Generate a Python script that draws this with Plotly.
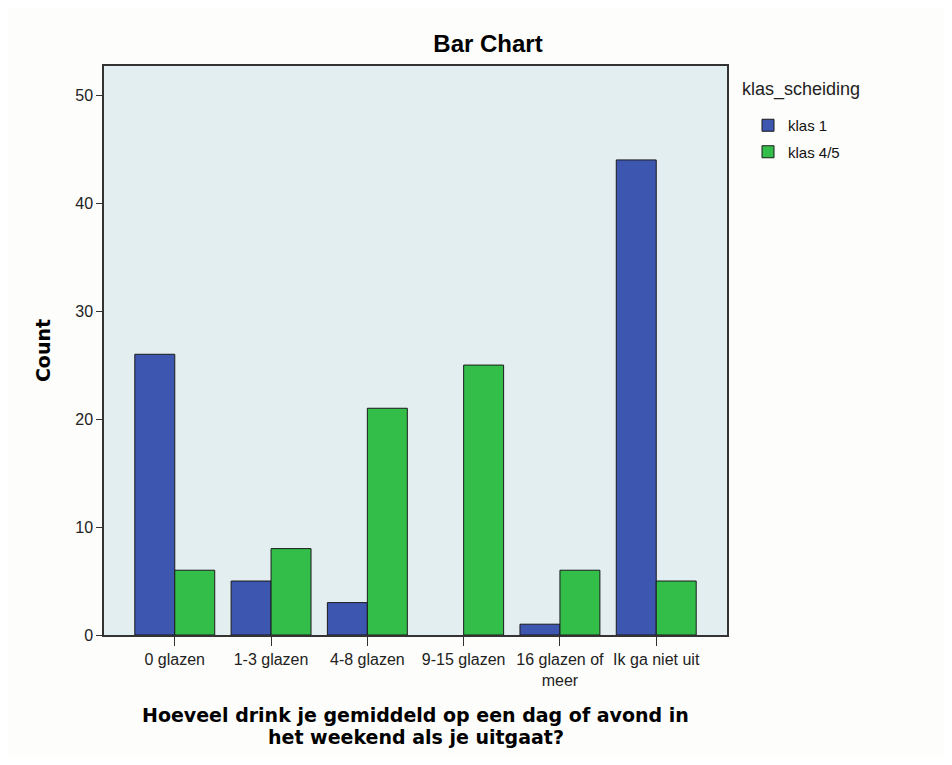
import plotly.graph_objects as go

categories = ["0 glazen", "1-3 glazen", "4-8 glazen", "9-15 glazen", "16 glazen of<br>meer", "Ik ga niet uit"]
klas1 = [26, 5, 3, 0, 1, 44]
klas45 = [6, 8, 21, 25, 6, 5]
series_names = ["klas 1", "klas 4/5"]
colors = ["#3D56B0", "#33BE4A"]
y_ticks = [0, 10, 20, 30, 40, 50]
x_title_lines = ["Hoeveel drink je gemiddeld op een dag of avond in", "het weekend als je uitgaat?"]

W, H = 936, 749
L, T, PW, PH = 96, 58, 623, 569

def px(xabs):
    return (xabs - 8 - L) / PW

def py(yabs):
    return 1 - (yabs - 8 - T) / PH

fig = go.Figure()
for name, vals, col in zip(series_names, [klas1, klas45], colors):
    fig.add_trace(go.Bar(
        x=list(range(len(categories))), y=vals, name=name,
        marker=dict(color=col, line=dict(color="#1a1a1a", width=[1 if v > 0 else 0 for v in vals])),
        legendgroup=name,
    ))

annotations = [dict(text="klas_scheiding", xref="paper", yref="paper",
                    x=px(740), y=py(89), xanchor="left", yanchor="middle",
                    showarrow=False, font=dict(size=18, color="#222"))]
for i, (line, yy) in enumerate(zip(x_title_lines, [715, 737])):
    annotations.append(dict(text="<b>" + line + "</b>", xref="paper", yref="paper",
                            x=0.5, y=py(yy), xanchor="center", yanchor="middle",
                            showarrow=False,
                            font=dict(family="DejaVu Sans", size=19, color="#000")))

fig.update_layout(
    width=W, height=H,
    paper_bgcolor="#FDFDFB", plot_bgcolor="#E3EEF0",
    barmode="group", bargap=0.17, bargroupgap=0,
    margin=dict(l=L, r=W - L - PW, t=T, b=H - T - PH),
    font=dict(family="Liberation Sans, Arial, sans-serif", size=15, color="#222"),
    title=dict(text="<b>Bar Chart</b>", x=(488 - 8) / W, xref="container", xanchor="center",
               y=1 - (43.5 - 8) / H, yref="container", yanchor="middle",
               font=dict(size=24, color="#000")),
    showlegend=True,
    legend=dict(x=px(748), xanchor="left", y=py(109), yanchor="top",
                font=dict(size=15, color="#111"), tracegroupgap=4,
                bgcolor="rgba(0,0,0,0)", itemwidth=30),
    annotations=annotations,
)
fig.update_xaxes(
    range=[-0.735, 5.735], tickvals=list(range(len(categories))), ticktext=categories,
    ticks="outside", ticklen=9, tickcolor="#333", showline=True, linecolor="#333",
    linewidth=1.5, mirror=True, showgrid=False, zeroline=False,
    tickfont=dict(size=16, color="#222"),
)
fig.update_yaxes(
    range=[0, 52.7], tickvals=y_ticks, ticks="outside", ticklen=6, tickcolor="#333",
    showline=True, linecolor="#333", linewidth=1.5, mirror=True, showgrid=False,
    zeroline=False, tickfont=dict(size=16, color="#222"),
    title=dict(text="<b>Count</b>", font=dict(family="DejaVu Sans", size=19, color="#000"), standoff=20),
)
fig.write_html("out.html")
